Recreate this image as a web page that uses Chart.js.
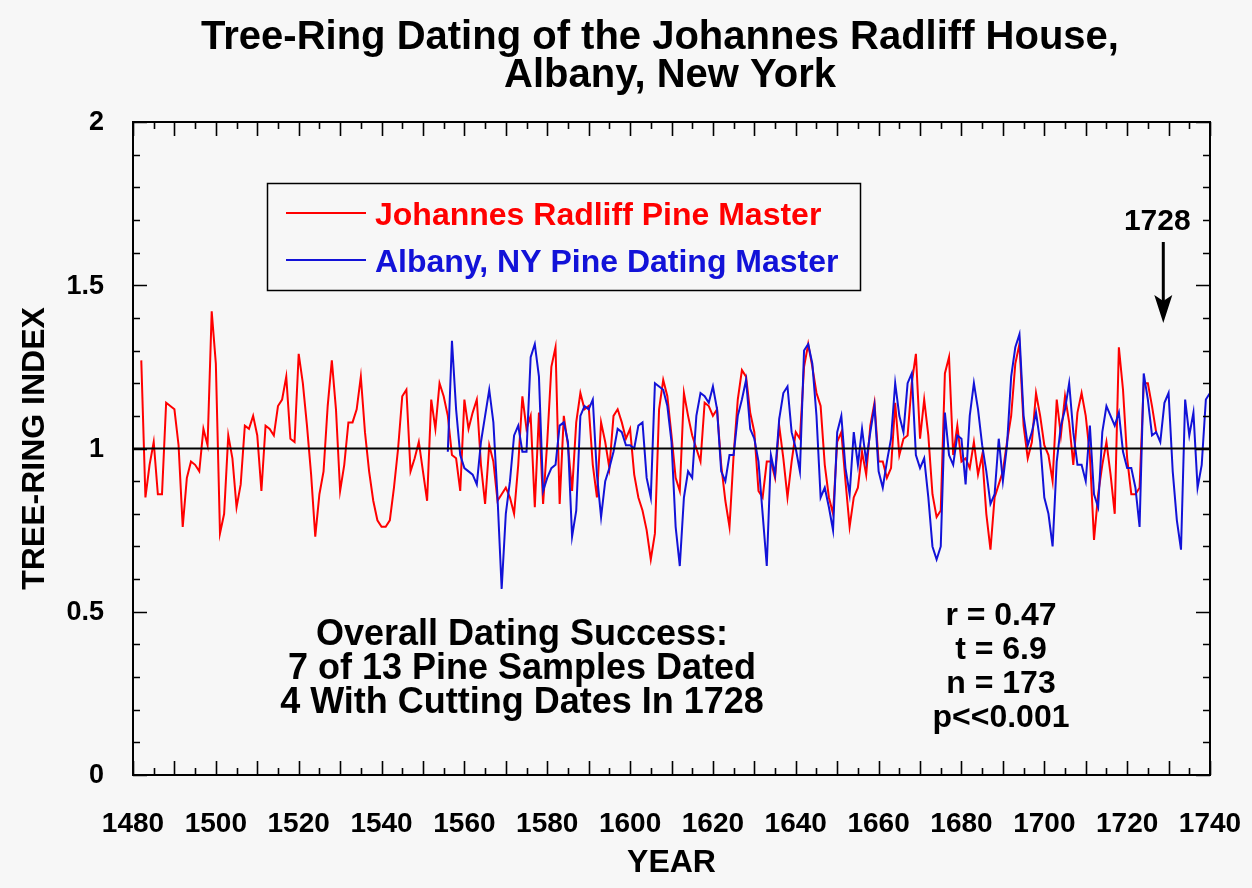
<!DOCTYPE html>
<html>
<head>
<meta charset="utf-8">
<title>Tree-Ring Dating of the Johannes Radliff House</title>
<script src="https://cdn.jsdelivr.net/npm/chart.js@4.4.1/dist/chart.umd.min.js"></script>
<style>
  html, body { margin: 0; padding: 0; background: #f7f7f7; }
  #wrap { width: 1252px; height: 888px; }
</style>
</head>
<body>
<div id="wrap"><canvas id="ringChart" width="1252" height="888"></canvas></div>
<script>
// Johannes Radliff pine master, one value per year from 1482
const redStart = 1482;
const redValues = [
  1.27, 0.85, 0.95, 1.02, 0.86, 0.86, 1.14, 1.13, 1.12, 1.01,
  0.76, 0.91, 0.96, 0.95, 0.93, 1.06, 1.01, 1.42, 1.26, 0.74,
  0.80, 1.04, 0.97, 0.82, 0.89, 1.07, 1.06, 1.10, 1.04, 0.87,
  1.07, 1.06, 1.04, 1.13, 1.15, 1.22, 1.03, 1.02, 1.29, 1.20,
  1.07, 0.92, 0.73, 0.86, 0.93, 1.13, 1.27, 1.12, 0.87, 0.95,
  1.08, 1.08, 1.12, 1.22, 1.05, 0.93, 0.84, 0.78, 0.76, 0.76,
  0.78, 0.88, 1.00, 1.16, 1.18, 0.93, 0.97, 1.02, 0.93, 0.84,
  1.15, 1.06, 1.20, 1.16, 1.10, 0.98, 0.97, 0.87, 1.15, 1.06,
  1.11, 1.15, 0.95, 0.83, 1.01, 0.96, 0.84, 0.86, 0.88, 0.85,
  0.80, 0.95, 1.16, 1.06, 1.10, 0.82, 1.11, 0.83, 1.02, 1.25,
  1.31, 0.83, 1.10, 1.01, 0.87, 1.08, 1.17, 1.12, 1.13, 0.95,
  0.85, 1.08, 1.02, 0.94, 1.10, 1.12, 1.08, 1.03, 1.06, 0.92,
  0.85, 0.81, 0.75, 0.66, 0.74, 1.12, 1.21, 1.16, 1.04, 0.91,
  0.87, 1.17, 1.10, 1.04, 1.00, 0.96, 1.14, 1.13, 1.10, 1.12,
  0.95, 0.84, 0.76, 0.98, 1.15, 1.24, 1.22, 1.11, 1.05, 0.87,
  0.85, 0.96, 0.96, 0.91, 1.07, 0.97, 0.85, 0.96, 1.05, 1.03,
  1.25, 1.32, 1.25, 1.17, 1.13, 0.95, 0.85, 0.80, 1.02, 1.05,
  0.90, 0.76, 0.85, 0.88, 0.99, 0.92, 1.07, 1.14, 0.96, 0.96,
  0.91, 0.94, 1.14, 0.98, 1.03, 1.04, 1.20, 1.29, 1.03, 1.15,
  1.04, 0.86, 0.79, 0.81, 1.23, 1.28, 0.98, 1.07, 0.96, 0.97,
  0.94, 1.02, 0.92, 0.98, 0.80, 0.69, 0.85, 0.89, 0.93, 1.02,
  1.10, 1.26, 1.32, 1.07, 0.97, 1.02, 1.17, 1.10, 1.01, 0.98,
  0.90, 1.15, 1.04, 1.16, 1.08, 0.95, 1.11, 1.17, 1.10, 0.98,
  0.72, 0.86, 0.95, 1.02, 0.92, 0.80, 1.31, 1.18, 0.97, 0.86,
  0.86, 0.88, 1.20, 1.20, 1.13, 1.05
];

// Albany, NY pine dating master, one value per year from 1556
const blueStart = 1556;
const blueValues = [
  0.99, 1.33, 1.12, 0.98, 0.94, 0.93, 0.92, 0.89, 1.02, 1.10,
  1.18, 1.08, 0.85, 0.57, 0.80, 0.90, 1.04, 1.07, 0.99, 0.99,
  1.28, 1.32, 1.22, 0.87, 0.91, 0.94, 0.95, 1.07, 1.08, 1.02,
  0.73, 0.81, 1.10, 1.13, 1.12, 1.15, 0.92, 0.79, 0.90, 0.94,
  0.99, 1.06, 1.05, 1.01, 1.01, 1.00, 1.07, 1.08, 0.91, 0.85,
  1.20, 1.19, 1.18, 1.13, 1.02, 0.76, 0.64, 0.85, 0.93, 0.91,
  1.10, 1.17, 1.16, 1.14, 1.19, 1.12, 0.93, 0.90, 0.98, 0.98,
  1.10, 1.15, 1.21, 1.06, 1.03, 0.96, 0.80, 0.64, 0.98, 0.92,
  1.09, 1.17, 1.19, 1.05, 1.00, 0.93, 1.30, 1.32, 1.26, 1.10,
  0.85, 0.88, 0.82, 0.75, 1.05, 1.10, 0.94, 0.86, 1.05, 0.95,
  1.06, 0.96, 1.05, 1.13, 0.93, 0.88, 0.96, 1.03, 1.20, 1.10,
  1.05, 1.20, 1.23, 0.98, 0.94, 0.97, 0.85, 0.70, 0.66, 0.70,
  1.11, 0.98, 0.95, 1.04, 1.03, 0.89, 1.10, 1.20, 1.12, 1.01,
  0.93, 0.83, 0.86, 1.03, 0.90, 1.01, 1.22, 1.31, 1.35, 1.10,
  1.01, 1.05, 1.11, 1.02, 0.85, 0.80, 0.70, 0.96, 1.07, 1.12,
  1.20, 1.05, 0.95, 0.95, 0.90, 1.07, 0.86, 0.82, 1.05, 1.13,
  1.10, 1.07, 1.11, 0.99, 0.94, 0.94, 0.88, 0.76, 1.23, 1.15,
  1.04, 1.05, 1.02, 1.14, 1.17, 0.93, 0.78, 0.69, 1.15, 1.04,
  1.11, 0.88, 0.95, 1.15, 1.17
];

// axis ticks and labels
const xTickLabels = [1480, 1500, 1520, 1540, 1560, 1580, 1600, 1620, 1640, 1660, 1680, 1700, 1720, 1740];
const yTickLabels = ["0", "0.5", "1", "1.5", "2"];
const yTickValues = [0, 0.5, 1, 1.5, 2];

const titleLines = ["Tree-Ring Dating of the Johannes Radliff House,", "Albany, New York"];
const seriesNames = ["Johannes Radliff Pine Master", "Albany, NY Pine Dating Master"];
const successLines = ["Overall Dating Success:", "7 of 13 Pine Samples Dated", "4 With Cutting Dates In 1728"];
const statLines = ["r = 0.47", "t = 6.9", "n = 173", "p<<0.001"];
const cuttingYear = 1728;

const RED = "#ff0000";
const BLUE = "#1212d8";
const FONT = "'Liberation Sans', Arial, Helvetica, sans-serif";

const toPoints = (start, vals) => vals.map((v, i) => ({ x: start + i, y: v }));

// frame, ticks, texts and the legend are drawn by hand, like the old KaleidaGraph plot
const decorPlugin = {
  id: "decor",
  beforeDraw(chart) {
    const c = chart.ctx;
    c.save();
    c.fillStyle = "#f7f7f7";
    c.fillRect(0, 0, chart.width, chart.height);
    c.restore();
  },
  afterDatasetsDraw(chart) {
    const c = chart.ctx;
    const xs = chart.scales.x, ys = chart.scales.y;
    const a = chart.chartArea;
    c.save();

    // reference line at index 1
    const y1 = ys.getPixelForValue(1);
    c.strokeStyle = "#000";
    c.lineWidth = 2;
    c.beginPath();
    c.moveTo(a.left, y1);
    c.lineTo(a.right, y1);
    c.stroke();

    // frame
    c.lineWidth = 2;
    c.strokeRect(a.left, a.top, a.right - a.left, a.bottom - a.top);

    // x ticks every 5 years, long every 10
    c.lineWidth = 1.6;
    c.beginPath();
    for (let yr = 1480; yr <= 1740; yr += 5) {
      const px = Math.round(xs.getPixelForValue(yr)) + 0.5;
      const len = yr % 10 === 0 ? 14 : 7;
      c.moveTo(px, a.bottom);
      c.lineTo(px, a.bottom - len);
      c.moveTo(px, a.top);
      c.lineTo(px, a.top + len);
    }
    // y ticks every 0.1, long every 0.5
    for (let k = 0; k <= 20; k++) {
      const py = Math.round(ys.getPixelForValue(k / 10)) + 0.5;
      const len = k % 5 === 0 ? 14 : 7;
      c.moveTo(a.left, py);
      c.lineTo(a.left + len, py);
      c.moveTo(a.right, py);
      c.lineTo(a.right - len, py);
    }
    c.stroke();

    // tick labels
    c.fillStyle = "#000";
    c.font = "bold 28px " + FONT;
    c.textAlign = "center";
    c.textBaseline = "alphabetic";
    xTickLabels.forEach((t) => c.fillText(String(t), xs.getPixelForValue(t), 832));
    c.font = "bold 27px " + FONT;
    c.textAlign = "right";
    c.textBaseline = "middle";
    yTickLabels.forEach((t, i) => c.fillText(t, a.left - 29, ys.getPixelForValue(yTickValues[i]) + 1));

    // axis titles
    c.font = "bold 32px " + FONT;
    c.textAlign = "center";
    c.textBaseline = "alphabetic";
    c.fillText("YEAR", (a.left + a.right) / 2, 872);
    c.save();
    c.translate(44, (a.top + a.bottom) / 2);
    c.rotate(-Math.PI / 2);
    c.fillText("TREE-RING INDEX", 0, 0);
    c.restore();

    // chart title
    c.font = "bold 40px " + FONT;
    c.fillText(titleLines[0], 660, 49);
    c.fillText(titleLines[1], 670, 87);

    // legend box
    c.lineWidth = 1.5;
    c.strokeRect(267.5, 183.5, 593, 107);
    c.lineWidth = 2;
    c.strokeStyle = RED;
    c.beginPath(); c.moveTo(286, 213); c.lineTo(366, 213); c.stroke();
    c.strokeStyle = BLUE;
    c.beginPath(); c.moveTo(286, 260); c.lineTo(366, 260); c.stroke();
    c.font = "bold 32px " + FONT;
    c.textAlign = "left";
    c.fillStyle = RED;
    c.fillText(seriesNames[0], 375, 225);
    c.fillStyle = BLUE;
    c.fillText(seriesNames[1], 375, 272);

    // cutting date arrow
    c.fillStyle = "#000";
    c.strokeStyle = "#000";
    const ax = xs.getPixelForValue(cuttingYear) + 3;
    c.textAlign = "center";
    c.font = "bold 30px " + FONT;
    c.fillText(String(cuttingYear), ax - 6, 230);
    c.lineWidth = 3;
    c.beginPath(); c.moveTo(ax, 242); c.lineTo(ax, 305); c.stroke();
    c.beginPath();
    c.moveTo(ax - 9, 295);
    c.lineTo(ax, 301);
    c.lineTo(ax + 9, 295);
    c.lineTo(ax, 323);
    c.closePath();
    c.fill();

    // annotation text
    c.font = "bold 36px " + FONT;
    successLines.forEach((s, i) => c.fillText(s, 522, 645 + i * 34));
    c.font = "bold 32px " + FONT;
    statLines.forEach((s, i) => c.fillText(s, 1001, 625 + i * 34));

    c.restore();
  }
};

const ctx = document.getElementById("ringChart").getContext("2d");
new Chart(ctx, {
  type: "line",
  data: {
    datasets: [
      {
        label: seriesNames[0],
        data: toPoints(redStart, redValues),
        borderColor: RED,
        borderWidth: 2,
        pointRadius: 0,
        tension: 0,
        fill: false,
        order: 2,
      },
      {
        label: seriesNames[1],
        data: toPoints(blueStart, blueValues),
        borderColor: BLUE,
        borderWidth: 2,
        pointRadius: 0,
        tension: 0,
        fill: false,
        order: 1,
      },
    ],
  },
  options: {
    responsive: false,
    animation: false,
    devicePixelRatio: 1,
    layout: { padding: { left: 133, right: 42, top: 122, bottom: 113 } },
    scales: {
      x: { type: "linear", min: 1480, max: 1740, display: false },
      y: { type: "linear", min: 0, max: 2, display: false },
    },
    plugins: {
      legend: { display: false },
      tooltip: { enabled: false },
      title: { display: false },
    },
  },
  plugins: [decorPlugin],
});
</script>
</body>
</html>
